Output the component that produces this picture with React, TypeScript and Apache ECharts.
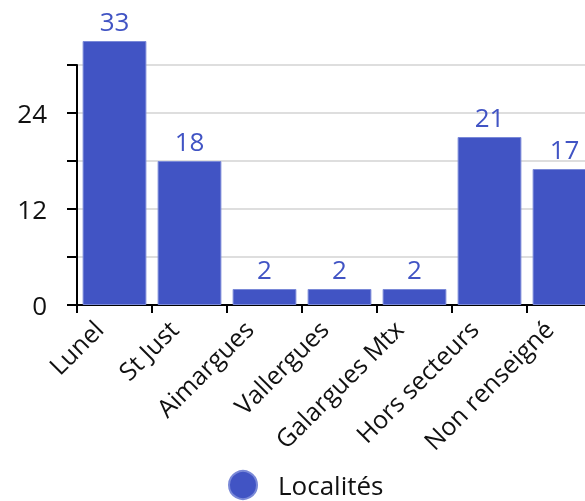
import React, { useEffect, useRef } from "react";
import * as echarts from "echarts";

const categories = ["Lunel", "St Just", "Aimargues", "Vallergues", "Galargues Mtx", "Hors secteurs", "Non renseigné"];
const values = [33, 18, 2, 2, 2, 21, 17];
const seriesName = "Localités";
const yMax = 30;
const yInterval = 6;
const yLabelStep = 12;

const FONT = "'Open Sans', 'Noto Sans', sans-serif";
const BLUE = "#4154c4";

export default function App() {
  const ref = useRef<HTMLDivElement>(null);
  useEffect(() => {
    if (!ref.current) return;
    const chart = echarts.init(ref.current, undefined, { renderer: "svg" });
    chart.setOption({
      animation: false,
      textStyle: { fontFamily: FONT },
      grid: { left: 77, width: 525, top: 65, bottom: 196, containLabel: false, outerBoundsMode: "none" },
      legend: {
        left: 223,
        top: 465,
        icon: "circle",
        itemWidth: 28,
        itemHeight: 28,
        data: [seriesName],
        textStyle: { fontFamily: FONT, fontSize: 26, lineHeight: 26, color: "#111", padding: [0, 0, 0, 16] },
      },
      xAxis: {
        type: "category",
        data: categories,
        axisLine: { lineStyle: { color: "#000", width: 2 } },
        axisTick: { show: true, length: 8, lineStyle: { color: "#000", width: 2 }, alignWithLabel: false },
        axisLabel: {
          rotate: 45,
          interval: 0,
          margin: 3,
          fontSize: 25,
          color: "#111",
          fontFamily: FONT,
          padding: [0, 23, 0, 0],
        },
        splitLine: { show: false },
      },
      yAxis: {
        type: "value",
        min: 0,
        max: yMax,
        interval: yInterval,
        axisLine: { show: true, lineStyle: { color: "#000", width: 2 } },
        axisTick: { show: true, length: 10, lineStyle: { color: "#000", width: 2 } },
        axisLabel: {
          margin: 30,
          fontSize: 26,
          color: "#111",
          fontFamily: FONT,
          formatter: (v: number) => (v % yLabelStep === 0 ? String(v) : ""),
        },
        splitLine: { show: true, lineStyle: { color: "#dedede", width: 2 } },
      },
      series: [
        {
          name: seriesName,
          type: "bar",
          data: values,
          clip: false,
          barCategoryGap: "15%",
          itemStyle: { color: BLUE, borderColor: "#7a89d8", borderWidth: 1 },
          label: {
            show: true,
            position: "top",
            distance: 7,
            fontSize: 26,
            color: BLUE,
            fontFamily: FONT,
          },
        },
      ],
    });
    return () => chart.dispose();
  }, []);
  return (
    <div
      ref={ref}
      style={{ position: "fixed", left: 0, top: 0, width: 585, height: 501, overflow: "hidden" }}
    />
  );
}
